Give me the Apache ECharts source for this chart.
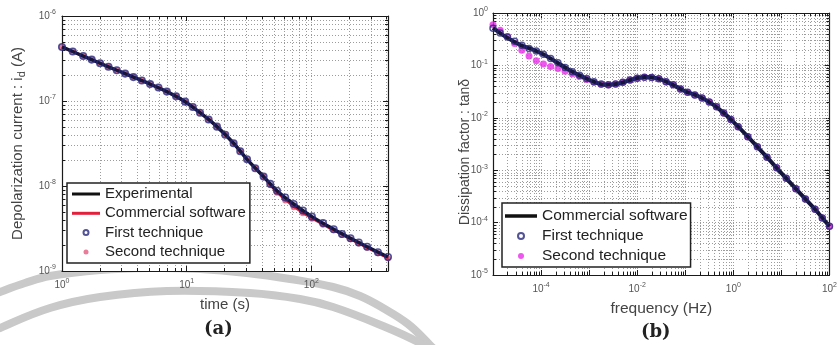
<!DOCTYPE html>
<html>
<head>
<meta charset="utf-8">
<script src="https://cdn.jsdelivr.net/npm/echarts@6/dist/echarts.min.js"></script>
<style>
  html, body { margin: 0; padding: 0; background: #fff; }
  #chart { width: 840px; height: 345px; }
</style>
</head>
<body>
<div id="chart"></div>
<script>
// ---------- (a) depolarization current versus time ----------
const timeExperimental = [1, 1.48, 2.02, 2.75, 3.74, 5.09, 6.93, 9.73, 12.8, 17.5, 23.8, 30.5, 41.4, 53, 72.1, 101, 151, 206, 280, 412];
const currentExperimental = [4.32e-7, 3.38e-7, 2.78e-7, 2.30e-7, 1.91e-7, 1.58e-7, 1.29e-7, 9.82e-8, 7.28e-8, 4.99e-8, 3.18e-8, 2.06e-8, 1.29e-8, 8.81e-9, 6.14e-9, 4.36e-9, 3.10e-9, 2.43e-9, 1.93e-9, 1.46e-9];

const timeCommercial = [1, 1.48, 2.02, 2.75, 3.74, 5.09, 6.93, 9.73, 12.8, 17.5, 23.8, 30.5, 41.4, 53, 72.1, 101, 151, 206, 280, 412];
const currentCommercial = [4.32e-7, 3.38e-7, 2.78e-7, 2.30e-7, 1.91e-7, 1.58e-7, 1.29e-7, 9.82e-8, 7.28e-8, 4.99e-8, 3.18e-8, 2.06e-8, 1.28e-8, 8.41e-9, 5.75e-9, 4.17e-9, 3.02e-9, 2.37e-9, 1.88e-9, 1.42e-9];

const timeTechniques = [1, 1.22, 1.48, 1.73, 2.02, 2.36, 2.75, 3.21, 3.74, 4.37, 5.09, 5.94, 6.93, 8.22, 9.73, 11.2, 12.8, 15.0, 17.5, 20.4, 23.8, 26.9, 30.5, 35.5, 41.4, 46.8, 53.0, 61.7, 72.1, 85.5, 101, 124, 151, 176, 206, 240, 280, 342, 412];
const currentFirst = [4.32e-7, 3.82e-7, 3.38e-7, 3.07e-7, 2.78e-7, 2.53e-7, 2.30e-7, 2.10e-7, 1.91e-7, 1.74e-7, 1.58e-7, 1.44e-7, 1.29e-7, 1.135e-7, 9.82e-8, 8.49e-8, 7.28e-8, 6.05e-8, 4.99e-8, 4.00e-8, 3.18e-8, 2.56e-8, 2.06e-8, 1.62e-8, 1.29e-8, 1.06e-8, 8.81e-9, 7.33e-9, 6.14e-9, 5.15e-9, 4.36e-9, 3.66e-9, 3.10e-9, 2.73e-9, 2.43e-9, 2.16e-9, 1.93e-9, 1.66e-9, 1.46e-9];
const currentSecond = [4.32e-7, 3.82e-7, 3.38e-7, 3.07e-7, 2.78e-7, 2.53e-7, 2.30e-7, 2.10e-7, 1.91e-7, 1.74e-7, 1.58e-7, 1.44e-7, 1.29e-7, 1.135e-7, 9.82e-8, 8.49e-8, 7.28e-8, 6.05e-8, 4.99e-8, 4.00e-8, 3.18e-8, 2.56e-8, 2.06e-8, 1.62e-8, 1.29e-8, 1.02e-8, 8.32e-9, 6.76e-9, 5.62e-9, 4.79e-9, 4.12e-9, 3.51e-9, 3.02e-9, 2.66e-9, 2.37e-9, 2.11e-9, 1.88e-9, 1.62e-9, 1.41e-9];

// ---------- (b) dissipation factor versus frequency ----------
const freqCommercial = [1e-5, 1.65e-5, 3.63e-5, 6.76e-5, 1.08e-4, 1.74e-4, 3.80e-4, 8.32e-4, 2.14e-3, 4.01e-3, 7.5e-3, 0.0141, 0.0263, 0.0493, 0.0933, 0.203, 0.380, 0.61, 0.977, 2.14, 4.68, 10.2, 22.4, 49.3, 100];
const tanCommercial = [0.517, 0.374, 0.248, 0.200, 0.165, 0.128, 0.0828, 0.0575, 0.0429, 0.0448, 0.0533, 0.0600, 0.0565, 0.0448, 0.0329, 0.0249, 0.0178, 0.0127, 0.00853, 0.00411, 0.00189, 8.57e-4, 3.94e-4, 1.82e-4, 8.45e-5];

const freqTechniques = [1.00e-5, 1.41e-5, 2.00e-5, 2.82e-5, 3.98e-5, 5.62e-5, 7.94e-5, 1.12e-4, 1.58e-4, 2.24e-4, 3.16e-4, 4.47e-4, 6.31e-4, 8.91e-4, 1.26e-3, 1.78e-3, 2.51e-3, 3.55e-3, 5.01e-3, 7.08e-3, 0.0100, 0.0141, 0.0200, 0.0282, 0.0398, 0.0562, 0.0794, 0.112, 0.158, 0.224, 0.316, 0.447, 0.631, 0.891, 1.26, 2.00, 3.16, 5.01, 7.94, 12.6, 20.0, 31.6, 50.1, 70.8, 100];
const tanFirst = [0.513, 0.417, 0.347, 0.288, 0.243, 0.211, 0.188, 0.164, 0.136, 0.112, 0.0912, 0.0759, 0.0646, 0.0562, 0.0490, 0.0442, 0.0427, 0.0442, 0.0479, 0.0525, 0.0569, 0.0596, 0.0589, 0.0556, 0.0490, 0.0427, 0.0355, 0.0309, 0.0272, 0.0240, 0.0200, 0.0162, 0.0124, 0.00933, 0.00676, 0.00437, 0.00279, 0.00176, 0.00111, 7.0e-4, 4.42e-4, 2.82e-4, 1.80e-4, 1.23e-4, 8.5e-5];
const tanSecond = [0.598, 0.468, 0.355, 0.263, 0.195, 0.151, 0.123, 0.106, 0.0955, 0.0871, 0.0776, 0.0692, 0.0617, 0.0537, 0.0479, 0.0437, 0.0422, 0.0442, 0.0479, 0.0525, 0.0569, 0.0596, 0.0589, 0.0556, 0.0490, 0.0427, 0.0355, 0.0309, 0.0272, 0.0240, 0.0200, 0.0162, 0.0124, 0.00933, 0.00676, 0.00437, 0.00279, 0.00176, 0.00111, 7.0e-4, 4.42e-4, 2.82e-4, 1.80e-4, 1.23e-4, 8.5e-5];

// ---------- axis ranges (decades) ----------
const rangeTime = [1, 412];
const rangeCurrent = [1e-9, 1e-6];
const rangeFreq = [1e-5, 100];
const rangeTan = [1e-5, 1];

const FONT = 'Liberation Sans, Arial, Helvetica, sans-serif';
const AXIS_COLOR = '#1a1a1a';
const GRID_COLOR = '#9c9c9c';
const LABEL_COLOR = '#555';
const NAVY = '#28287c';

const pairs = (xs, ys) => xs.map((x, i) => [x, ys[i]]);

// 2..9 multiples of each decade inside a range, for the minor log grid
function minorValues(range) {
  const out = [];
  const lo = Math.floor(Math.log10(range[0]));
  const hi = Math.ceil(Math.log10(range[1]));
  for (let k = lo; k < hi; k++) {
    for (let m = 2; m <= 9; m++) {
      const v = m * Math.pow(10, k);
      if (v > range[0] * 1.0001 && v < range[1] * 0.9999) out.push(v);
    }
  }
  return out;
}

function powLabel(skipOdd) {
  return function (v) {
    const e = Math.log10(v);
    const r = Math.round(e);
    if (Math.abs(e - r) > 1e-6) return '';
    if (skipOdd && Math.abs(r % 2) === 1) return '';
    return '{b|10}{s|' + r + '}';
  };
}
const POW_RICH = {
  b: { fontSize: 10, color: LABEL_COLOR, fontFamily: FONT },
  s: { fontSize: 7, color: LABEL_COLOR, fontFamily: FONT, padding: [0, 0, 7, 0] }
};

function logAxis(range, grid, pos, opts) {
  const main = pos === 'bottom' || pos === 'left';
  return Object.assign({
    type: 'log', logBase: 10, gridIndex: grid, position: pos,
    min: range[0], max: range[1],
    axisLine: { show: true, onZero: false, lineStyle: { color: AXIS_COLOR, width: 1.2 } },
    axisTick: { show: true, inside: true, length: 5, lineStyle: { color: AXIS_COLOR, width: 1 } },
    axisLabel: { show: main },
    splitLine: { show: main, lineStyle: { color: GRID_COLOR, type: [1, 2], width: 1 } },
    minorTick: { show: false },
    nameMoveOverlap: false,
    nameTextStyle: { fontFamily: FONT }
  }, opts || {});
}

// dotted minor grid lines plus short inside ticks on both sides
function minorXRenderer(params, api) {
  const cs = params.coordSys;
  const x = Math.round(api.coord([api.value(0), api.value(1)])[0]) + 0.5;
  const top = cs.y, bot = cs.y + cs.height;
  return {
    type: 'group', silent: true, children: [
      { type: 'line', shape: { x1: x, y1: top, x2: x, y2: bot }, style: { stroke: GRID_COLOR, lineWidth: 1, lineDash: [1, 2] } },
      { type: 'line', shape: { x1: x, y1: bot, x2: x, y2: bot - 3 }, style: { stroke: AXIS_COLOR, lineWidth: 1 } },
      { type: 'line', shape: { x1: x, y1: top, x2: x, y2: top + 3 }, style: { stroke: AXIS_COLOR, lineWidth: 1 } }
    ]
  };
}
function minorYRenderer(params, api) {
  const cs = params.coordSys;
  const y = Math.round(api.coord([api.value(0), api.value(1)])[1]) + 0.5;
  const left = cs.x, right = cs.x + cs.width;
  return {
    type: 'group', silent: true, children: [
      { type: 'line', shape: { x1: left, y1: y, x2: right, y2: y }, style: { stroke: GRID_COLOR, lineWidth: 1, lineDash: [1, 2] } },
      { type: 'line', shape: { x1: left, y1: y, x2: left + 3, y2: y }, style: { stroke: AXIS_COLOR, lineWidth: 1 } },
      { type: 'line', shape: { x1: right, y1: y, x2: right - 3, y2: y }, style: { stroke: AXIS_COLOR, lineWidth: 1 } }
    ]
  };
}
function minorSeries(axisIdx, values, refOther, isX) {
  return {
    type: 'custom', xAxisIndex: axisIdx, yAxisIndex: axisIdx, z: 1, silent: true, clip: false,
    renderItem: isX ? minorXRenderer : minorYRenderer,
    data: values.map(v => isX ? [v, refOther] : [refOther, v]),
    tooltip: { show: false }
  };
}

const LINE_ICON = 'path://M0,0L28,0L28,3L0,3Z';
const LINE_ICON_B = 'path://M0,0L32,0L32,3.5L0,3.5Z';

const chart = echarts.init(document.getElementById('chart'), null, { renderer: 'canvas' });

chart.setOption({
  backgroundColor: '#fff',
  animation: false,
  grid: [
    { left: 62, top: 16, width: 326, height: 255, show: true, backgroundColor: '#fff', borderWidth: 0 },
    { left: 493, top: 13, width: 342, height: 262, show: true, backgroundColor: '#fff', borderWidth: 0 }
  ],
  xAxis: [
    logAxis(rangeTime, 0, 'bottom', {
      name: 'time (s)', nameLocation: 'middle', nameGap: 26,
      nameTextStyle: { fontFamily: FONT, fontSize: 15, color: '#444' },
      axisLabel: { show: true, margin: 7, formatter: powLabel(false), rich: POW_RICH }
    }),
    logAxis(rangeTime, 0, 'top'),
    logAxis(rangeFreq, 1, 'bottom', {
      name: 'frequency (Hz)', nameLocation: 'middle', nameGap: 26,
      nameTextStyle: { fontFamily: FONT, fontSize: 15.5, color: '#444' },
      axisLabel: { show: true, margin: 7, formatter: powLabel(true), rich: POW_RICH }
    }),
    logAxis(rangeFreq, 1, 'top')
  ],
  yAxis: [
    logAxis(rangeCurrent, 0, 'left', {
      name: '{t|Depolarization current : i}{sub|d}{t| (A)}', nameLocation: 'middle', nameRotate: 90, nameGap: 35,
      nameTextStyle: {
        rich: {
          t: { fontFamily: FONT, fontSize: 15, color: '#444' },
          sub: { fontFamily: FONT, fontSize: 11, color: '#444', padding: [8, 0, 0, 0] }
        }
      },
      axisLabel: { show: true, margin: 6, formatter: powLabel(false), rich: POW_RICH }
    }),
    logAxis(rangeCurrent, 0, 'right'),
    logAxis(rangeTan, 1, 'left', {
      name: 'Dissipation factor : tanδ', nameLocation: 'middle', nameRotate: 90, nameGap: 21,
      nameTextStyle: { fontFamily: FONT, fontSize: 14, color: '#444', padding: [0, 16, 0, 0] },
      axisLabel: { show: true, margin: 5, formatter: powLabel(false), rich: POW_RICH }
    }),
    logAxis(rangeTan, 1, 'right')
  ],
  legend: [
    {
      orient: 'vertical', left: 67, top: 183,
      itemWidth: 28, itemHeight: 5, itemGap: 3.3,
      padding: [3, 4, 3, 5],
      backgroundColor: '#fff', borderColor: '#222', borderWidth: 1.5,
      selectedMode: false,
      textStyle: { fontFamily: FONT, fontSize: 15, color: '#222', lineHeight: 16 },
      data: [
        { name: 'Experimental', icon: LINE_ICON, itemStyle: { color: '#111', borderWidth: 0 } },
        { name: 'Commercial software', icon: LINE_ICON, itemStyle: { color: '#e3203c', borderWidth: 0 } },
        { name: 'First technique', icon: 'emptyCircle', itemStyle: { color: NAVY } },
        { name: 'Second technique', icon: 'circle', itemStyle: { color: '#e55a80', borderWidth: 0 } }
      ]
    },
    {
      orient: 'vertical', left: 502, top: 203,
      itemWidth: 32, itemHeight: 6, itemGap: 4,
      padding: [5, 3, 3, 3],
      backgroundColor: '#fff', borderColor: '#222', borderWidth: 1.5,
      selectedMode: false,
      textStyle: { fontFamily: FONT, fontSize: 15.5, color: '#222', lineHeight: 16 },
      data: [
        { name: 'Commercial software', icon: LINE_ICON_B, itemStyle: { color: '#111', borderWidth: 0 } },
        { name: 'First technique', icon: 'emptyCircle', itemStyle: { color: NAVY } },
        { name: 'Second technique', icon: 'circle', itemStyle: { color: '#ea2dea', borderWidth: 0 } }
      ]
    }
  ],
  graphic: [
    // decorative grey rings behind the lower-left panel
    {
      type: 'polyline', z: -10, silent: true,
      shape: { points: [[-20, 300], [0, 292], [25, 283], [50, 276], [100, 270], [150, 268], [200, 269], [247, 273], [290, 279], [333, 287], [360, 296], [383, 308], [408, 324], [430, 345], [445, 360]], smooth: 0.4 },
      style: { stroke: '#c9c9c9', lineWidth: 8, fill: null }
    },
    {
      type: 'polyline', z: -10, silent: true,
      shape: { points: [[-20, 338], [0, 328], [50, 308], [100, 297], [167, 291], [250, 293], [300, 299], [333, 307], [383, 326], [420, 343], [440, 356]], smooth: 0.4 },
      style: { stroke: '#c9c9c9', lineWidth: 8, fill: null }
    },
    {
      type: 'text', left: 204, top: 320, silent: true,
      style: { text: '(a)', font: 'bold 18px "DejaVu Serif", "Liberation Serif", serif', fill: '#222' }
    },
    {
      type: 'text', left: 641, top: 323, silent: true,
      style: { text: '(b)', font: 'bold 18px "DejaVu Serif", "Liberation Serif", serif', fill: '#222' }
    }
  ],
  series: [
    // minor log grid, panel (a)
    minorSeries(0, minorValues(rangeTime), 1e-8, true),
    minorSeries(0, minorValues(rangeCurrent), 10, false),
    // panel (a) data
    {
      name: 'Second technique', type: 'scatter', xAxisIndex: 0, yAxisIndex: 0, z: 2,
      symbol: 'circle', symbolSize: 6, itemStyle: { color: '#e55a80' },
      data: pairs(timeTechniques, currentSecond)
    },
    {
      name: 'Commercial software', type: 'line', xAxisIndex: 0, yAxisIndex: 0, z: 3,
      symbol: 'none', smooth: 0.35, lineStyle: { color: '#e3203c', width: 2.5 },
      data: pairs(timeCommercial, currentCommercial)
    },
    {
      name: 'Experimental', type: 'line', xAxisIndex: 0, yAxisIndex: 0, z: 4,
      symbol: 'none', smooth: 0.35, lineStyle: { color: '#15153a', width: 3.5 },
      data: pairs(timeExperimental, currentExperimental)
    },
    {
      name: 'First technique', type: 'scatter', xAxisIndex: 0, yAxisIndex: 0, z: 5,
      symbol: 'circle', symbolSize: 6.5,
      itemStyle: { color: 'rgba(0,0,0,0)', borderColor: NAVY, borderWidth: 1.6 },
      data: pairs(timeTechniques, currentFirst)
    },
    // minor log grid, panel (b)
    minorSeries(2, minorValues(rangeFreq), 1e-3, true),
    minorSeries(2, minorValues(rangeTan), 1, false),
    // panel (b) data
    {
      name: 'Second technique', type: 'scatter', xAxisIndex: 2, yAxisIndex: 2, z: 2,
      symbol: 'circle', symbolSize: 7, itemStyle: { color: '#ea2dea' },
      data: pairs(freqTechniques, tanSecond)
    },
    {
      name: 'Commercial software', type: 'line', xAxisIndex: 2, yAxisIndex: 2, z: 3,
      symbol: 'none', smooth: 0.35, lineStyle: { color: '#15153a', width: 4 },
      data: pairs(freqCommercial, tanCommercial)
    },
    {
      name: 'First technique', type: 'scatter', xAxisIndex: 2, yAxisIndex: 2, z: 4,
      symbol: 'circle', symbolSize: 6,
      itemStyle: { color: 'rgba(0,0,0,0)', borderColor: NAVY, borderWidth: 1.5 },
      data: pairs(freqTechniques, tanFirst)
    }
  ]
});
</script>
</body>
</html>
